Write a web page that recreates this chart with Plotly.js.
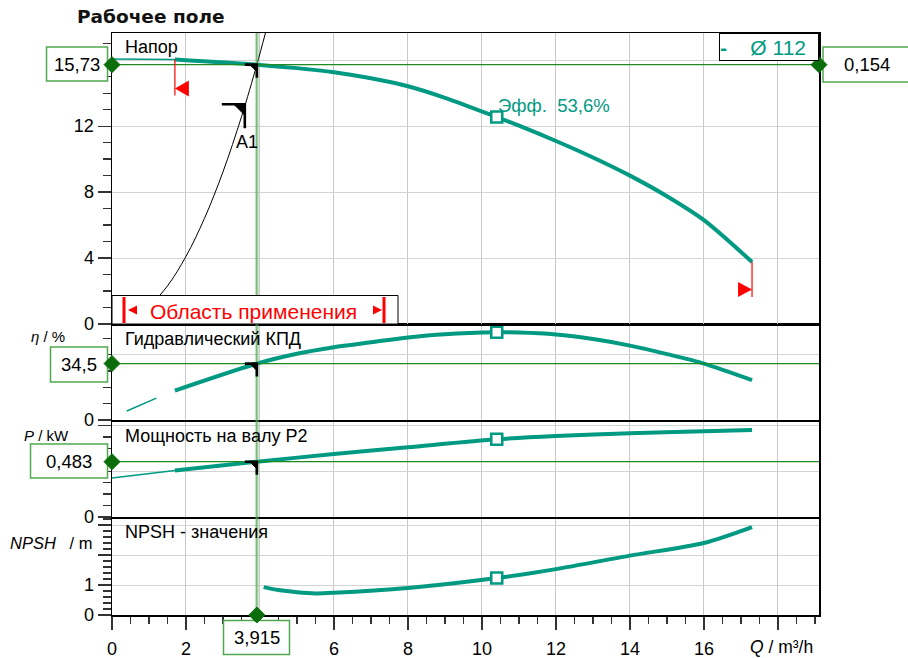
<!DOCTYPE html>
<html><head><meta charset="utf-8">
<script src="https://cdn.plot.ly/plotly-3.0.1.min.js"></script>
<style>body{margin:0;background:#fff}#chart{width:908px;height:658px}</style>
</head><body><div id="chart"></div>
<script>
// ---------- data ----------
const qHead = [1.7, 3.915, 5, 6, 7, 8, 9, 10.4, 11, 12, 13, 14, 15, 16, 17.3];
const head  = [16.04, 15.73, 15.52, 15.27, 14.9, 14.42, 13.72, 12.55, 12.03, 11.1, 10.1, 9.0, 7.75, 6.3, 3.76];
const qHeadThin = [0, 1.7];
const headThin  = [16.08, 16.04];
const qEff = [1.7, 3.915, 5, 6, 7, 8, 9, 10.4, 11, 12, 13, 14, 15, 16, 17.3];
const eff  = [18.0, 34.5, 40.5, 44.5, 47.5, 50.5, 52.5, 53.6, 53.5, 52.3, 49.5, 45.5, 40.3, 34.5, 24.4];
const qEffThin = [0.4, 1.2];
const effThin  = [5.5, 13.4];
const qPow = [1.7, 3.915, 6, 8, 10.4, 12, 14, 16, 17.3];
const pow  = [0.406, 0.483, 0.55, 0.609, 0.679, 0.707, 0.731, 0.75, 0.76];
const qPowThin = [0, 1.7];
const powThin  = [0.34, 0.406];
const qNpsh = [4.1, 4.5, 5, 5.5, 6, 8, 10.4, 12, 14, 16, 17.3];
const npsh  = [0.93, 0.83, 0.76, 0.72, 0.74, 0.9, 1.23, 1.53, 1.98, 2.4, 2.93];
const qSys = [1.0, 1.5, 2.0, 2.5, 3.0, 3.5, 3.915, 4.15];
const hSys = [1.03, 2.31, 4.1, 6.41, 9.23, 12.57, 15.73, 17.67];
const duty = {q: 3.915, h: 15.73, eff: 34.5, p: 0.483, press: 0.154};
const bep  = {q: 10.4, h: 12.55, eff: 53.6, p: 0.679, npsh: 1.23};
const qTicks = [0, 2, 4, 6, 8, 10, 12, 14, 16, 18];
const qTickText = ['0', '2', '', '6', '8', '10', '12', '14', '16', ''];
const hTicks = [0, 4, 8, 12, 16];
const hTickText = ['0', '4', '8', '12', ''];
const pressTicks = [0, 0.04, 0.08, 0.12, 0.16];
const pressTickText = ['0', '0,04', '0,08', '0,12', ''];
const effTicks = [0, 40];
const effTickText = ['0', ''];
const powTicks = [0, 0.4, 0.8];
const powTickText = ['0', '', ''];
const npshTicks = [0, 1, 2, 3];
const npshTickText = ['0', '1', '', ''];

// ---------- style ----------
const teal = '#009a82';
const dgreen = '#0b6e0b';
const lgreen = '#4fa94f';
const FONT = 'Liberation Sans, Arial, sans-serif';
const QMAX = 19.11;
const L = 112, T = 33, W = 707, H = 582;
const px = x => (x - L) / W;
const py = y => (T + H - y) / H;

const DOM = {
  y:  [0, 96 / 582],
  y2: [98 / 582, 193 / 582],
  y3: [195 / 582, 291 / 582],
  y4: [291 / 582, 1]
};
const RNG = {y: [0, 3.2], y2: [0, 0.83], y3: [0, 58.7], y4: [0, 17.65]};
const yPaper = (ax, v) => DOM[ax][0] + (v - RNG[ax][0]) / (RNG[ax][1] - RNG[ax][0]) * (DOM[ax][1] - DOM[ax][0]);
const xPaper = q => q / QMAX;

function xa(anchor, bottom) {
  const a = {
    anchor: anchor, range: [0, QMAX], domain: [0, 1],
    tickmode: 'array', tickvals: qTicks, ticktext: qTickText,
    showgrid: true, gridcolor: '#c8c8c8', gridwidth: 1,
    showline: true, linecolor: '#000', linewidth: 1.5, mirror: true,
    zeroline: false, fixedrange: true
  };
  if (bottom) {
    Object.assign(a, {
      ticks: 'outside', ticklen: 13, tickwidth: 1.3, tickcolor: '#333',
      tickfont: {size: 18, family: FONT, color: '#000'}, ticklabelstandoff: 4,
      minor: {tickmode: 'linear', tick0: 0, dtick: 0.5, ticks: 'outside', ticklen: 7, tickwidth: 1.3, tickcolor: '#333', showgrid: false}
    });
  } else {
    Object.assign(a, {matches: 'x', showticklabels: false, ticks: ''});
  }
  return a;
}
function ya(ax, tv, tt, minorD) {
  return {
    domain: DOM[ax], range: RNG[ax], tickmode: 'array', tickvals: tv, ticktext: tt,
    showgrid: true, gridcolor: '#d4d4d4', gridwidth: 1,
    showline: true, linecolor: '#000', linewidth: 1.5, mirror: true,
    zeroline: false, fixedrange: true,
    ticks: 'outside', ticklen: 13, tickwidth: 1.3, tickcolor: '#333',
    tickfont: {size: 18, family: FONT, color: '#000'},
    minor: {tickmode: 'linear', tick0: 0, dtick: minorD, ticks: 'outside', ticklen: 8, tickwidth: 1.3, tickcolor: '#333', showgrid: false}
  };
}

const sq = (xr, yr, q, v) => ({x: [q], y: [v], xaxis: xr, yaxis: yr, mode: 'markers',
  marker: {symbol: 'square', size: 11, color: '#fff', line: {color: teal, width: 2.5}}});

const traces = [
  {x: qSys, y: hSys, xaxis: 'x4', yaxis: 'y4', mode: 'lines', line: {color: '#000', width: 1, shape: 'spline'}},
  {x: qHeadThin, y: headThin, xaxis: 'x4', yaxis: 'y4', mode: 'lines', line: {color: teal, width: 1.5}},
  {x: qHead, y: head, xaxis: 'x4', yaxis: 'y4', mode: 'lines', line: {color: teal, width: 4, shape: 'spline', smoothing: 0.8}},
  {x: qEffThin, y: effThin, xaxis: 'x3', yaxis: 'y3', mode: 'lines', line: {color: teal, width: 1.5}},
  {x: qEff, y: eff, xaxis: 'x3', yaxis: 'y3', mode: 'lines', line: {color: teal, width: 4, shape: 'spline', smoothing: 0.8}},
  {x: qPowThin, y: powThin, xaxis: 'x2', yaxis: 'y2', mode: 'lines', line: {color: teal, width: 1.5}, cliponaxis: false},
  {x: qPow, y: pow, xaxis: 'x2', yaxis: 'y2', mode: 'lines', line: {color: teal, width: 4, shape: 'spline', smoothing: 0.8}},
  {x: qNpsh, y: npsh, xaxis: 'x', yaxis: 'y', mode: 'lines', line: {color: teal, width: 4, shape: 'spline', smoothing: 0.8}},
  sq('x4', 'y4', bep.q, bep.h), sq('x3', 'y3', bep.q, bep.eff), sq('x2', 'y2', bep.q, bep.p), sq('x', 'y', bep.q, bep.npsh)
];

function pix(xref, yref, xa_, ya_, path, opts) {
  return Object.assign({type: 'path', xref: xref, yref: yref, xsizemode: 'pixel', ysizemode: 'pixel',
    xanchor: xa_, yanchor: ya_, path: path, layer: 'above'}, opts);
}
const blackMark = (xr, yr, q, v, s, t) => [
  pix(xr, yr, q, v, `M ${-s},0 L 0,0 L 0,${-s - 1}`, {line: {color: '#000', width: 2.6}}),
  pix(xr, yr, q, v, `M ${-t},0 L 0,0 L 0,${-t} Z`, {fillcolor: '#000', line: {color: '#000', width: 1}})
];
// diamonds in paper coordinates so that they are not clipped by the plot area
const diamond = (ax, q, v) => pix('paper', 'paper', xPaper(q), yPaper(ax, v), 'M -8,0 L 0,8 L 8,0 L 0,-8 Z', {fillcolor: dgreen, line: {color: dgreen, width: 1}});
const boxShape = (cx, cy, w, h) => ({type: 'rect', xref: 'paper', yref: 'paper',
  x0: px(cx - w / 2), x1: px(cx + w / 2), y0: py(cy + h / 2), y1: py(cy - h / 2),
  fillcolor: '#fff', line: {color: lgreen, width: 1.5}, layer: 'above'});

const BOXES = [
  {cx: 77, cy: 64, w: 61, h: 34, t: '15,73'},
  {cx: 867, cy: 64.5, w: 88, h: 35, t: '0,154'},
  {cx: 79, cy: 364.5, w: 57, h: 35, t: '34,5'},
  {cx: 69, cy: 461, w: 77, h: 34, t: '0,483'},
  {cx: 256.5, cy: 637.5, w: 66, h: 34, t: '3,915'}
];

const shapes = [
  // vertical duty line
  {type: 'line', xref: 'x', yref: 'paper', x0: duty.q, x1: duty.q, y0: 0, y1: 1, line: {color: 'rgba(90,175,90,0.35)', width: 4}, layer: 'above'},
  {type: 'line', xref: 'x', yref: 'paper', x0: duty.q, x1: duty.q, y0: 0, y1: 1, line: {color: '#5aa85a', width: 1}, layer: 'above'},
  // horizontal duty lines
  {type: 'line', xref: 'paper', yref: 'y4', x0: 0, x1: 1, y0: duty.h, y1: duty.h, line: {color: '#1f8a1f', width: 1.2}, layer: 'above'},
  {type: 'line', xref: 'paper', yref: 'y3', x0: 0, x1: 1, y0: duty.eff, y1: duty.eff, line: {color: '#1f8a1f', width: 1.2}, layer: 'above'},
  {type: 'line', xref: 'paper', yref: 'y2', x0: 0, x1: 1, y0: duty.p, y1: duty.p, line: {color: '#1f8a1f', width: 1.2}, layer: 'above'},
  // application range box
  {type: 'rect', xref: 'paper', yref: 'paper', x0: px(112), x1: px(398), y0: py(324), y1: py(295.5), fillcolor: '#fff', line: {color: '#000', width: 1}, layer: 'above'},
  {type: 'line', xref: 'paper', yref: 'paper', x0: px(124), x1: px(124), y0: py(323), y1: py(297), line: {color: '#f00', width: 3}, layer: 'above'},
  {type: 'line', xref: 'paper', yref: 'paper', x0: px(384), x1: px(384), y0: py(323), y1: py(297), line: {color: '#f00', width: 3}, layer: 'above'},
  {type: 'path', xref: 'paper', yref: 'paper', path: `M ${px(128)},${py(310)} L ${px(137)},${py(305.5)} L ${px(137)},${py(314.5)} Z`, fillcolor: '#f00', line: {width: 0}, layer: 'above'},
  {type: 'path', xref: 'paper', yref: 'paper', path: `M ${px(382)},${py(310)} L ${px(373)},${py(305.5)} L ${px(373)},${py(314.5)} Z`, fillcolor: '#f00', line: {width: 0}, layer: 'above'},
  // red curve limit markers
  pix('x4', 'y4', qHead[0], head[0], 'M 0,0 L 0,-36', {line: {color: '#f00', width: 1.2}}),
  pix('x4', 'y4', qHead[0], head[0], 'M 0,-29 L 14,-21 L 14,-37 Z', {fillcolor: '#f00', line: {width: 0}}),
  pix('x4', 'y4', qHead[qHead.length - 1], head[head.length - 1], 'M 0,0 L 0,-35', {line: {color: '#f00', width: 1.2}}),
  pix('x4', 'y4', qHead[qHead.length - 1], head[head.length - 1], 'M 0,-27.5 L -14,-20 L -14,-35 Z', {fillcolor: '#f00', line: {width: 0}}),
  // black duty marks
  ...blackMark('x4', 'y4', duty.q, duty.h, 12, 7),
  ...blackMark('x3', 'y3', duty.q, duty.eff, 12, 7),
  ...blackMark('x2', 'y2', duty.q, duty.p, 12, 7),
  ...blackMark('x4', 'y4', 3.59, 13.33, 23, 11),
  // value boxes, then diamonds on top
  ...BOXES.map(b => boxShape(b.cx, b.cy, b.w, b.h)),
  diamond('y4', 0, duty.h),
  diamond('y4', QMAX, duty.h),
  diamond('y3', 0, duty.eff),
  diamond('y2', 0, duty.p),
  diamond('y', duty.q, 0)
];

const lab = (x, y, txt, size, color, anchor, extra) => Object.assign({
  xref: 'paper', yref: 'paper', x: px(x), y: py(y), xanchor: anchor || 'left', yanchor: 'middle',
  text: txt, showarrow: false, font: {size: size, family: FONT, color: color || '#000'}
}, extra || {});

const annotations = [
  lab(75, 16, '<b>Рабочее поле</b>', 18.5, '#111', 'left', {font: {size: 18.5, family: 'DejaVu Sans, Verdana, sans-serif', color: '#111'}}),
  lab(123, 47, 'Напор', 18),
  lab(123, 339, 'Гидравлический КПД', 18),
  lab(123, 436, 'Мощность на валу P2', 18),
  lab(123, 532, 'NPSH - значения', 18),
  lab(247, 142, 'A1', 18, '#000', 'center'),
  lab(496, 105, 'Эфф.  53,6%', 18.5, teal),
  lab(253, 311, 'Область применения', 21, '#f00', 'center'),
  {xref: 'paper', yref: 'paper', x: px(719), y: py(33), xanchor: 'left', yanchor: 'top', width: 98, height: 26,
   text: '<b>-</b>    Ø 112', showarrow: false, align: 'left', valign: 'middle', bgcolor: '#fff', bordercolor: '#000', borderwidth: 1, borderpad: 0,
   font: {size: 21, family: FONT, color: teal}},
  lab(48, 337, '<i>η</i> / %', 15, '#000', 'center'),
  lab(46, 435, '<i>P</i> / kW', 15, '#000', 'center'),
  lab(8, 543, '<i>NPSH</i>   / m', 16.5),
  lab(748, 647, '<i>Q</i> / m³/h', 17.5),
  ...BOXES.map(b => lab(b.cx, b.cy, b.t, 18.5, '#000', 'center'))
];

const layout = {
  width: 908, height: 658, margin: {l: 112, r: 89, t: 33, b: 43, pad: 0},
  paper_bgcolor: '#fff', plot_bgcolor: '#fff', showlegend: false,
  font: {family: FONT, size: 17, color: '#000'},
  xaxis: xa('y', true), xaxis2: xa('y2', false), xaxis3: xa('y3', false), xaxis4: xa('y4', false),
  yaxis: ya('y', npshTicks, npshTickText, 0.2),
  yaxis2: ya('y2', powTicks, powTickText, 0.1),
  yaxis3: ya('y3', effTicks, effTickText, 10),
  yaxis4: ya('y4', hTicks, hTickText, 1),
  yaxis5: Object.assign(ya('y4', pressTicks, pressTickText, 0.01), {range: [0, 0.1724], overlaying: 'y4', side: 'right', anchor: 'x4', showgrid: false, mirror: false}),
  shapes: shapes, annotations: annotations
};
layout.yaxis5.minor.ticklen = 7;
layout.yaxis.anchor = 'x'; layout.yaxis2.anchor = 'x2'; layout.yaxis3.anchor = 'x3'; layout.yaxis4.anchor = 'x4';

Plotly.newPlot('chart', traces, layout, {displayModeBar: false, staticPlot: true});
</script></body></html>
